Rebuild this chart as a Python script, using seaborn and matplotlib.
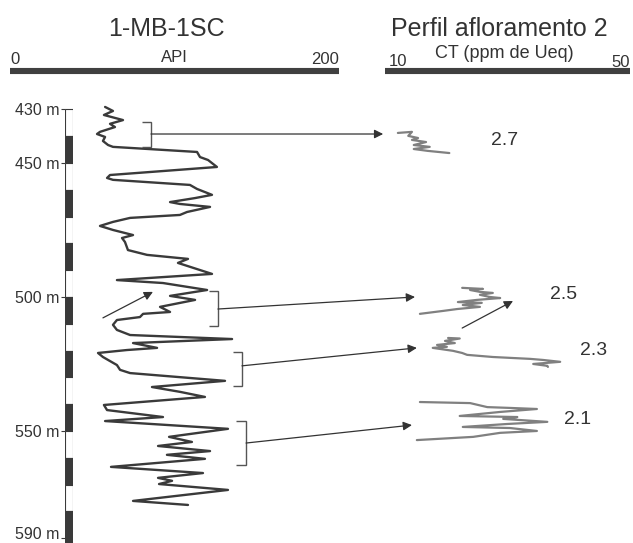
import numpy as np
import pandas as pd
import matplotlib
matplotlib.use("Agg")
import matplotlib.pyplot as plt
import matplotlib.transforms as mtransforms
import seaborn as sns
from matplotlib import font_manager

# =========================================================
# DATA
# =========================================================

# gamma ray log of well 1-MB-1SC (API vs depth in m)
gr_api = [57.8, 62.6, 57.1, 68.7, 60.8, 63.8, 54.7, 52.9, 57.8, 56.5,
          59.6, 62.6, 113.7, 115.5, 120.4, 125.8, 60.8, 59.0, 62.6, 109.4,
          113.7, 122.8, 112.5, 97.3, 103.3, 121.6, 107.6, 103.3, 73.0, 62.6,
          54.7, 62.6, 74.8, 68.1, 69.9, 71.7, 83.3, 108.2, 102.1, 122.8,
          65.0, 93.0, 119.8, 97.3, 112.5, 91.2, 97.3, 80.9, 79.0, 65.0,
          62.6, 65.0, 73.0, 135.0, 74.8, 89.4, 71.1, 53.5, 56.5, 59.6,
          65.0, 66.9, 73.0, 130.7, 86.3, 103.3, 118.5, 57.1, 59.0, 93.0,
          57.8, 132.5, 96.7, 110.6, 90.0, 121.6, 95.4, 118.5, 61.4, 117.3,
          90.0, 98.5, 90.6, 132.5, 74.8, 108.2]
gr_depth = [429.1, 430.6, 432.1, 434.0, 435.4, 436.6, 438.4, 439.2, 440.3, 441.8,
            443.3, 444.0, 445.9, 447.8, 448.9, 451.5, 454.5, 455.6, 456.3, 458.2,
            459.7, 461.9, 463.1, 464.6, 465.3, 466.4, 468.3, 469.4, 470.5, 472.0,
            473.5, 475.0, 476.9, 478.0, 479.5, 482.5, 484.3, 485.8, 487.3, 491.4,
            493.7, 494.8, 497.4, 499.6, 501.1, 503.7, 505.6, 506.3, 507.5, 508.6,
            510.4, 512.3, 514.2, 515.7, 517.2, 519.0, 519.8, 520.9, 522.4, 523.5,
            525.4, 527.2, 528.4, 531.3, 533.6, 535.4, 537.3, 540.3, 542.2, 544.8,
            546.3, 549.2, 552.2, 554.1, 555.6, 557.5, 558.9, 560.4, 563.4, 565.7,
            567.5, 568.6, 569.8, 572.0, 576.1, 577.6]

# outcrop profile 2 sections (CT in ppm eU), placed at the matching log interval
p27_ct = [12.1, 14.4, 13.8, 15.4, 14.4, 16.7, 14.7, 17.3, 14.7, 17.0, 20.5]
p27_depth = [438.8, 438.4, 439.9, 440.7, 441.4, 442.2, 443.3, 444.0, 444.8, 445.5, 446.3]

p25_ct = [22.6, 26.0, 23.9, 25.5, 27.6, 25.5, 27.1, 28.8, 25.0, 21.9,
          25.8, 22.7, 25.5, 21.8, 19.5, 15.7]
p25_depth = [496.6, 497.0, 497.4, 498.1, 498.5, 499.2, 500.0, 500.4, 501.1, 501.9,
             502.2, 503.0, 503.7, 504.5, 505.2, 506.3]

p23_ct = [20.3, 22.2, 19.8, 21.4, 18.5, 20.1, 17.8, 21.1, 22.6, 23.4,
          27.6, 33.7, 35.8, 38.6, 34.2, 36.5, 36.6]
p23_depth = [515.3, 515.5, 516.4, 517.2, 517.9, 518.6, 519.0, 520.1, 520.9, 521.6,
             522.4, 523.1, 523.5, 524.2, 525.0, 525.7, 526.1]

p21_ct = [15.7, 23.9, 26.7, 30.4, 34.8, 28.8, 22.2, 31.6, 29.3, 36.5,
          29.9, 22.7, 30.4, 34.8, 28.8, 24.4, 15.2]
p21_depth = [539.2, 539.6, 541.1, 541.4, 541.8, 542.9, 544.4, 544.8, 545.5, 546.6,
             547.4, 548.5, 548.9, 550.0, 550.7, 552.2, 553.4]

section_labels = ["2.7", "2.5", "2.3", "2.1"]
label_ct = [29.6, 39.1, 44.0, 41.5]
label_depth = [441.8, 499.2, 519.8, 545.9]

# correlated intervals on the log (brackets) and arrow targets
br_top = [434.7, 497.8, 520.5, 546.3]
br_bot = [444.0, 510.8, 533.2, 562.7]
br_api = [85.7, 126.4, 141.0, 143.5]
br_tick_api = [80.3, 121.0, 135.6, 137.4]
arr_from_depth = [439.2, 504.5, 525.7, 554.5]
arr_to_ct = [9.7, 14.9, 15.2, 14.4]
arr_to_depth = [439.2, 500.0, 519.0, 547.8]

# depth scale
block_top = [430, 440, 450, 460, 470, 480, 490, 500, 510, 520,
             530, 540, 550, 560, 570, 580, 590]
block_color = ["white", "#3a3a3a"] * 8 + ["#3a3a3a"]
depth_ticks = [430, 450, 500, 550, 590]

api_range = [0, 200]
ct_range = [10, 50]
depth_lim = [591.8, 389.2]

# =========================================================
# STYLE
# =========================================================

sns.set_theme(style="white")
names = {f.name for f in font_manager.fontManager.ttflist}
plt.rcParams["font.family"] = ["Liberation Sans", "DejaVu Sans"]
plt.rcParams["lines.solid_joinstyle"] = "round"
plt.rcParams["lines.solid_capstyle"] = "round"
head_font = "Liberation Sans Narrow" if "Liberation Sans Narrow" in names else "Liberation Sans"
head_size = 22 if head_font == "Liberation Sans Narrow" else 18

ink = "#3a3a3a"
gray = "#808080"
arrow_kw = dict(arrowstyle="-|>", color="#333333", lw=0.9,
                mutation_scale=13, shrinkA=0, shrinkB=0)

W, H = 633, 543
fig = plt.figure(figsize=(W / 100, H / 100), dpi=100)

ax1 = fig.add_axes([10 / W, 0, 329 / W, 1])
ax2 = fig.add_axes([385 / W, 0, 245 / W, 1], sharey=ax1)
ax0 = fig.add_axes([65 / W, 0, 8 / W, 1], sharey=ax1)
for ax in (ax0, ax1, ax2):
    ax.patch.set_visible(False)

# =========================================================
# GAMMA RAY LOG
# =========================================================

log_df = pd.DataFrame({"API": gr_api, "Depth": gr_depth})
sns.lineplot(data=log_df, x="API", y="Depth", sort=False, estimator=None,
             color=ink, lw=1.7, ax=ax1)

for i in range(len(br_top)):
    ax1.plot([br_tick_api[i], br_api[i], br_api[i], br_tick_api[i]],
             [br_top[i], br_top[i], br_bot[i], br_bot[i]],
             color="#555555", lw=1.0, solid_joinstyle="miter", solid_capstyle="butt")

ax1.set_xlim(api_range)
ax1.set_ylim(depth_lim)
ax1.axis("off")

# =========================================================
# OUTCROP PROFILE
# =========================================================

for ct, dp in [(p27_ct, p27_depth), (p25_ct, p25_depth),
               (p23_ct, p23_depth), (p21_ct, p21_depth)]:
    sns.lineplot(x=ct, y=dp, sort=False, estimator=None,
                 color=gray, lw=1.6, ax=ax2)

for lab, x, y in zip(section_labels, label_ct, label_depth):
    ax2.text(x, y, lab, fontsize=14, color="#333333", ha="center", va="center")

ax2.set_xlim(ct_range)
ax2.axis("off")

# arrows from the log brackets to the outcrop sections
for i in range(len(br_api)):
    ax2.annotate("", xy=(arr_to_ct[i], arr_to_depth[i]), xycoords=ax2.transData,
                 xytext=(br_api[i], arr_from_depth[i]), textcoords=ax1.transData,
                 arrowprops=arrow_kw, annotation_clip=False)

# small trend arrows
ax1.annotate("", xy=(86.9, 498.1), xytext=(56.5, 507.8), arrowprops=arrow_kw)
ax2.annotate("", xy=(30.9, 501.5), xytext=(22.6, 511.6), arrowprops=arrow_kw)

# =========================================================
# DEPTH SCALE
# =========================================================

ax0.barh([b + 5 for b in block_top], width=1, height=10, left=0,
         color=block_color, edgecolor=ink, lw=0.8)
ax0.set_xlim(0, 1)
ax0.set_xticks([])
ax0.set_yticks(depth_ticks)
ax0.set_yticklabels([f"{d} m" for d in depth_ticks])
ax0.tick_params(axis="y", left=True, length=3, width=0.8, color=ink,
                labelsize=11.5, labelcolor="#333333", pad=1)
for s in ax0.spines.values():
    s.set_visible(False)
ax0.set_ylim(depth_lim)
# last label sits on the bottom edge, nudge it up a little
last = ax0.get_yticklabels()[-1]
last.set_transform(last.get_transform() +
                   mtransforms.ScaledTranslation(0, 5 / 100, fig.dpi_scale_trans))

# =========================================================
# HEADERS
# =========================================================

bar_y = 1 - 71 / H
for ax, rng in [(ax1, api_range), (ax2, ct_range)]:
    ax.plot(rng, [bar_y, bar_y], transform=ax.get_xaxis_transform(),
            color="#404040", lw=4.4, solid_capstyle="butt", clip_on=False)

t1 = ax1.get_xaxis_transform()
t2 = ax2.get_xaxis_transform()
ax1.text(0, 1 - 64 / H, "0", transform=t1, ha="left", va="baseline",
         fontsize=12, color="#333333", family=head_font)
ax1.text(200, 1 - 64 / H, "200", transform=t1, ha="right", va="baseline",
         fontsize=12, color="#333333", family=head_font)
ax1.text(100, 1 - 62 / H, "API", transform=t1, ha="center", va="baseline",
         fontsize=12, color="#333333", family=head_font)
ax1.text(95, 1 - 36 / H, "1-MB-1SC", transform=t1, ha="center", va="baseline",
         fontsize=head_size, color="#333333", family=head_font)

ax2.text(10.6, 1 - 66 / H, "10", transform=t2, ha="left", va="baseline",
         fontsize=12, color="#333333", family=head_font)
ax2.text(50, 1 - 67 / H, "50", transform=t2, ha="right", va="baseline",
         fontsize=12, color="#333333", family=head_font)
ax2.text(29.5, 1 - 58 / H, "CT (ppm de Ueq)", transform=t2, ha="center",
         va="baseline", fontsize=13, color="#333333", family=head_font)
ax2.text(28.6, 1 - 36 / H, "Perfil afloramento 2", transform=t2, ha="center",
         va="baseline", fontsize=head_size, color="#333333", family=head_font)

fig.savefig("out.png", dpi=100, facecolor="white")
